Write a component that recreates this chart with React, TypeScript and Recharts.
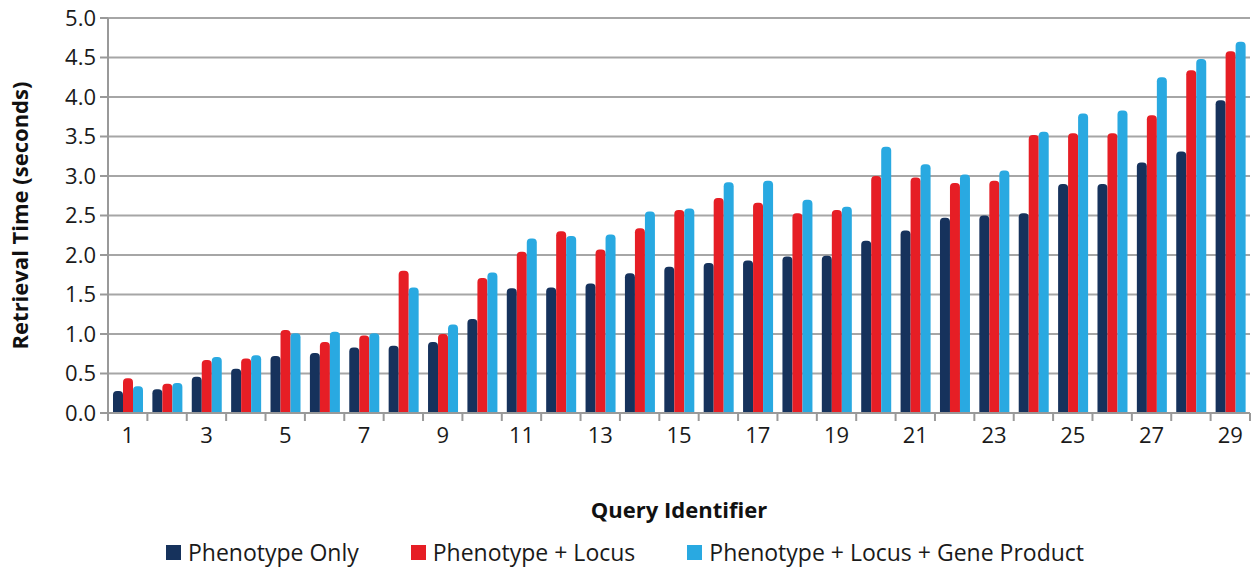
import React from 'react';
import { BarChart, Bar, XAxis, YAxis, CartesianGrid, Legend } from 'recharts';

const queries = [
  1, 2, 3, 4, 5, 6, 7, 8, 9, 10, 11, 12, 13, 14, 15, 16, 17, 18, 19, 20, 21, 22, 23, 24, 25, 26, 27, 28, 29,
];
const seriesNames = ['Phenotype Only', 'Phenotype + Locus', 'Phenotype + Locus + Gene Product'];
const phenotypeOnly = [
  0.28, 0.3, 0.46, 0.56, 0.72, 0.76, 0.83, 0.85, 0.9, 1.19, 1.58, 1.59, 1.64, 1.77, 1.85, 1.9, 1.93, 1.98,
  1.99, 2.18, 2.31, 2.47, 2.5, 2.53, 2.9, 2.9, 3.17, 3.31, 3.96,
];
const phenotypeLocus = [
  0.44, 0.37, 0.67, 0.69, 1.05, 0.9, 0.98, 1.8, 1.0, 1.71, 2.04, 2.3, 2.07, 2.34, 2.57, 2.72, 2.66, 2.53,
  2.57, 3.0, 2.98, 2.91, 2.94, 3.52, 3.54, 3.54, 3.77, 4.34, 4.58,
];
const phenotypeLocusGene = [
  0.34, 0.38, 0.71, 0.73, 1.01, 1.03, 1.01, 1.59, 1.12, 1.78, 2.21, 2.24, 2.26, 2.55, 2.59, 2.92, 2.94, 2.7,
  2.61, 3.37, 3.15, 3.02, 3.07, 3.56, 3.79, 3.83, 4.25, 4.48, 4.7,
];
const yTicks = [0, 0.5, 1, 1.5, 2, 2.5, 3, 3.5, 4, 4.5, 5];

const data = queries.map((q, i) => ({
  query: q,
  only: phenotypeOnly[i],
  locus: phenotypeLocus[i],
  gene: phenotypeLocusGene[i],
}));

const W = 1255;
const H = 568;
const MARGIN = { top: 18, right: 5, left: 0, bottom: 2 };
const Y_W = 108;
const TICK_SIZE = 8;
const TICK_MARGIN = 6;
const FONT = '"Open Sans", sans-serif';
const HALF_BAND = (W - MARGIN.left - MARGIN.right - Y_W) / queries.length / 2;

function QueryTick(props: any) {
  const { x, y, payload, index } = props;
  const lineTop = y - TICK_MARGIN - TICK_SIZE;
  const lineBottom = y - TICK_MARGIN;
  return (
    <g>
      <line x1={x - HALF_BAND} x2={x - HALF_BAND} y1={lineTop} y2={lineBottom} stroke="#999" strokeWidth={2} />
      {index === queries.length - 1 && (
        <line x1={x + HALF_BAND} x2={x + HALF_BAND} y1={lineTop} y2={lineBottom} stroke="#999" strokeWidth={2} />
      )}
      {payload.value % 2 === 1 && (
        <text x={x} y={y} dy="0.71em" textAnchor="middle" fill="#1a1a1a" fontSize={22} fontFamily={FONT}>
          {payload.value}
        </text>
      )}
    </g>
  );
}

function LegendContent(props: any) {
  const items = [...(props.payload || [])].sort(
    (a: any, b: any) => seriesNames.indexOf(a.value) - seriesNames.indexOf(b.value),
  );
  return (
    <div style={{ display: 'flex', justifyContent: 'center', gap: 52, height: 28, alignItems: 'center', fontFamily: FONT, fontSize: 23, color: '#1a1a1a' }}>
      {items.map((p: any) => (
        <div key={p.value} style={{ display: 'flex', alignItems: 'center', gap: 7 }}>
          <span style={{ width: 15, height: 15, background: p.color, display: 'inline-block' }} />
          <span>{p.value}</span>
        </div>
      ))}
    </div>
  );
}

export default function App() {
  return (
    <div style={{ position: 'absolute', left: 0, top: 0, background: '#fff' }}>
      <BarChart width={W} height={H} data={data} margin={MARGIN} barGap={0} barSize={10}>
        <CartesianGrid vertical={false} stroke="#a6a6a6" strokeWidth={2} />
        <XAxis
          dataKey="query"
          interval={0}
          height={125}
          tickSize={TICK_SIZE}
          tickMargin={TICK_MARGIN}
          tickLine={false}
          tick={<QueryTick />}
          axisLine={{ stroke: '#999', strokeWidth: 2 }}
          label={{
            value: 'Query Identifier',
            position: 'insideBottom',
            offset: 20,
            fontFamily: FONT,
            fontSize: 22,
            fontWeight: 700,
            fill: '#111',
          }}
        />
        <YAxis
          width={Y_W}
          domain={[0, 5]}
          ticks={yTicks}
          interval={0}
          tickSize={TICK_SIZE}
          tickMargin={4}
          tickFormatter={(v: number) => v.toFixed(1)}
          tick={{ fontFamily: FONT, fontSize: 22, fill: '#1a1a1a' }}
          tickLine={{ stroke: '#999', strokeWidth: 2 }}
          axisLine={{ stroke: '#999', strokeWidth: 2 }}
          label={{
            value: 'Retrieval Time (seconds)',
            angle: -90,
            position: 'insideLeft',
            offset: 20,
            style: { textAnchor: 'middle' },
            fontFamily: FONT,
            fontSize: 22,
            fontWeight: 700,
            fill: '#111',
          }}
        />
        <Legend verticalAlign="bottom" content={<LegendContent />} />
        <Bar dataKey="only" name={seriesNames[0]} fill="#16325c" radius={[4, 4, 0, 0]} isAnimationActive={false} />
        <Bar dataKey="locus" name={seriesNames[1]} fill="#e61e25" radius={[4, 4, 0, 0]} isAnimationActive={false} />
        <Bar dataKey="gene" name={seriesNames[2]} fill="#29a9e1" radius={[4, 4, 0, 0]} isAnimationActive={false} />
      </BarChart>
    </div>
  );
}
